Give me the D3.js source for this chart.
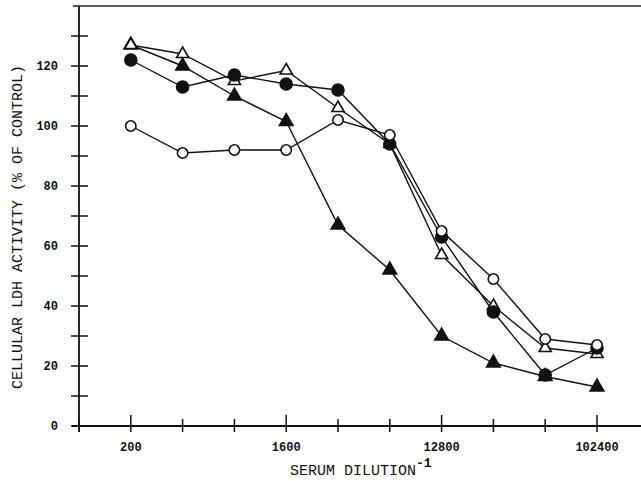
<!DOCTYPE html>
<html><head><meta charset="utf-8">
<script src="https://cdn.jsdelivr.net/npm/d3@7"></script>
<style>body{margin:0;background:#fff}svg{display:block}</style>
</head><body>
<svg id="c" width="641" height="481"></svg>
<script>
const dilutions = [200, 400, 800, 1600, 3200, 6400, 12800, 25600, 51200, 102400];
const xTickLabels = ["200", "1600", "12800", "102400"];
const yTicks = [0, 20, 40, 60, 80, 100, 120];
const openCircle = [100, 91, 92, 92, 102, 97, 65, 49, 29, 27];
const filledCircle = [122, 113, 117, 114, 112, 94, 63, 38, 17, 26];
const openTriangle = [127, 124, 115, 118.5, 106, 94, 57, 40, 26, 24];
const filledTriangle = [127, 120, 110, 101.5, 67, 52, 30, 21, 16.5, 13];

const svg = d3.select("#c");
const x = d3.scaleLog().base(2).domain([100, 102400]).range([79, 597]);
const y = d3.scaleLinear().domain([0, 140]).range([426, 6]);
const mono = "'Liberation Mono','DejaVu Sans Mono',monospace";

// frame lines
svg.append("line").attr("x1", 73).attr("x2", 641).attr("y1", y(140)).attr("y2", y(140))
  .attr("stroke", "#222").attr("stroke-width", 1.5);
svg.append("line").attr("x1", 72).attr("x2", 641).attr("y1", y(0)).attr("y2", y(0))
  .attr("stroke", "#111").attr("stroke-width", 1.8);
svg.append("line").attr("x1", x(100)).attr("x2", x(100)).attr("y1", y(140)).attr("y2", 432)
  .attr("stroke", "#111").attr("stroke-width", 1.8);

// y ticks (major + minor)
const yAllTicks = d3.range(0, 131, 10);
svg.append("g").selectAll("line").data(yAllTicks).join("line")
  .attr("x1", 71).attr("x2", 88).attr("y1", d => y(d)).attr("y2", d => y(d))
  .attr("stroke", "#111").attr("stroke-width", 1.5);
svg.append("g").selectAll("text").data(yTicks).join("text")
  .attr("x", 58).attr("y", d => y(d) + 4).attr("text-anchor", "end")
  .attr("font-family", mono).attr("font-weight", "bold").attr("font-size", 12)
  .attr("fill", "#111").text(d => d);

// x ticks
const xAll = [100].concat(dilutions);
svg.append("g").selectAll("line").data(xAll).join("line")
  .attr("x1", d => x(d)).attr("x2", d => x(d))
  .attr("y1", d => xTickLabels.includes(String(d)) ? y(0) - 11 : y(0) - 7)
  .attr("y2", y(0) + 6)
  .attr("stroke", "#111").attr("stroke-width", 1.5);
svg.append("g").selectAll("text").data(xTickLabels).join("text")
  .attr("x", d => x(+d)).attr("y", 451).attr("text-anchor", "middle")
  .attr("font-family", mono).attr("font-weight", "bold").attr("font-size", 12)
  .attr("fill", "#111").text(d => d);

// axis titles
const xt = svg.append("text").attr("x", 290).attr("y", 475)
  .attr("font-family", mono).attr("font-size", 15).attr("fill", "#111");
xt.append("tspan").text("SERUM DILUTION");
xt.append("tspan").attr("dy", -8).attr("font-size", 13).attr("font-weight", "bold").text("-1");

svg.append("text").attr("transform", "translate(22,227) rotate(-90)")
  .attr("text-anchor", "middle").attr("font-family", mono).attr("font-size", 15)
  .attr("fill", "#111").text("CELLULAR LDH ACTIVITY (% OF CONTROL)");

// series
const series = [
  {vals: filledTriangle, shape: "tri", fill: true},
  {vals: openTriangle, shape: "tri", fill: false},
  {vals: filledCircle, shape: "circ", fill: true},
  {vals: openCircle, shape: "circ", fill: false}
];
const line = d3.line().x(d => x(d[0])).y(d => y(d[1]));
series.forEach(s => {
  const pts = dilutions.map((d, i) => [d, s.vals[i]]);
  svg.append("path").attr("d", line(pts)).attr("fill", "none")
    .attr("stroke", "#111").attr("stroke-width", 1.4);
});
series.forEach(s => {
  const pts = dilutions.map((d, i) => [d, s.vals[i]]);
  const g = svg.append("g");
  if (s.shape === "circ") {
    g.selectAll("circle").data(pts).join("circle")
      .attr("cx", d => x(d[0])).attr("cy", d => y(d[1]))
      .attr("r", s.fill ? 6 : 5.2)
      .attr("fill", s.fill ? "#111" : "#fff").attr("stroke", "#111").attr("stroke-width", 1.6);
  } else {
    const sym = d3.symbol().type(d3.symbolTriangle).size(s.fill ? 80 : 64);
    g.selectAll("path").data(pts).join("path")
      .attr("transform", d => `translate(${x(d[0])},${y(d[1])})`)
      .attr("d", sym())
      .attr("fill", s.fill ? "#111" : "#fff").attr("stroke", "#111").attr("stroke-width", 1.6);
  }
});
</script>
</body></html>
